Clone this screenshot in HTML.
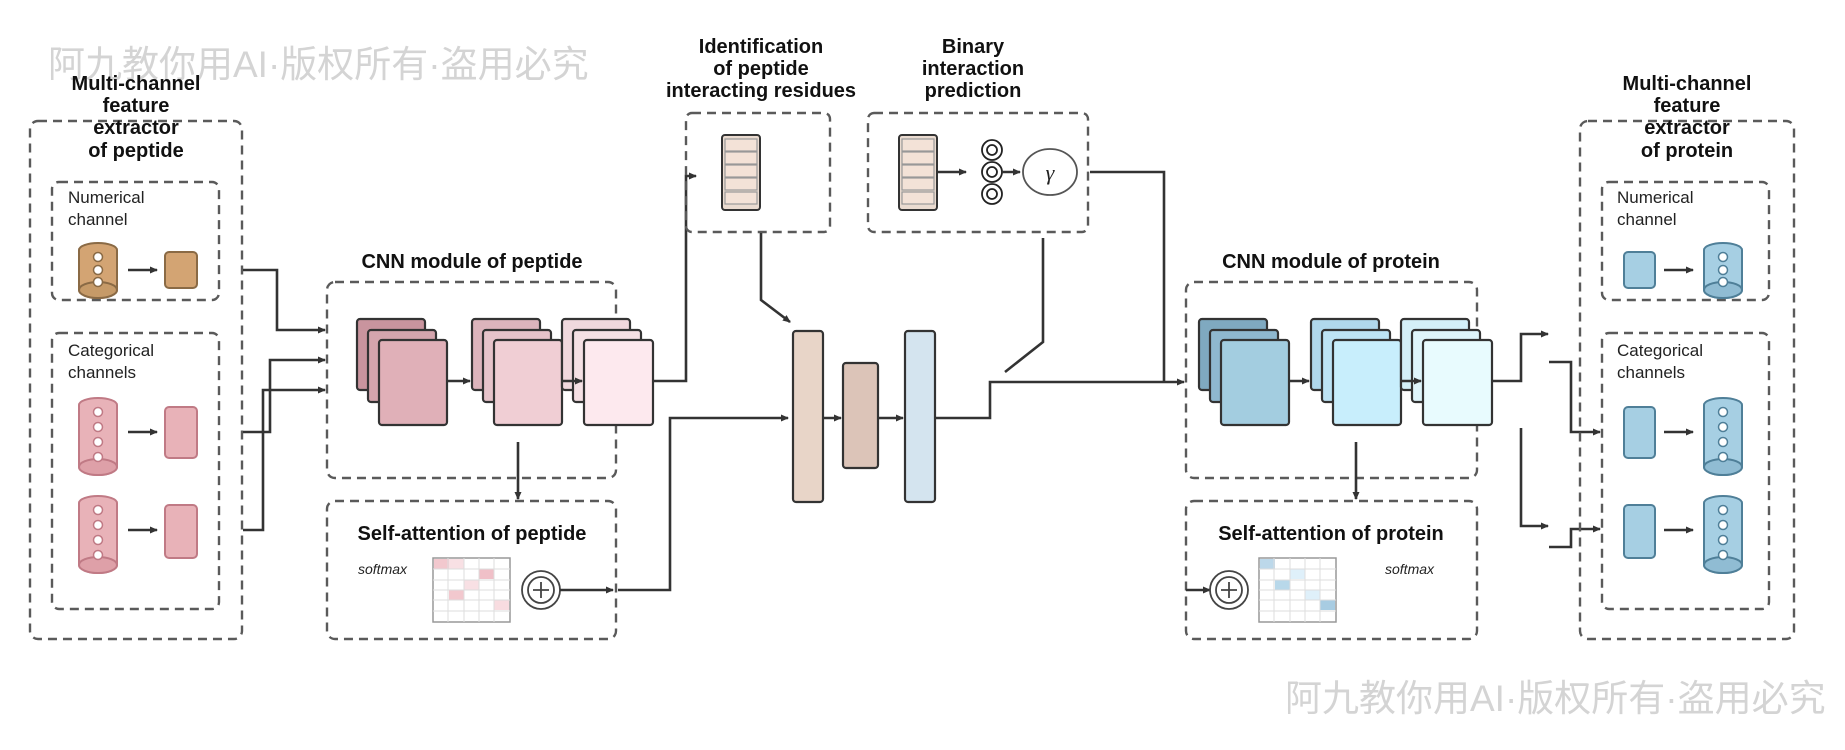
<!DOCTYPE html>
<html><head><meta charset="utf-8"><style>
html,body{margin:0;padding:0;background:#fff;}
svg{display:block;}
.t{font-family:"Liberation Sans",Arial,sans-serif;font-weight:bold;fill:#111;}
.n{font-family:"Liberation Sans",Arial,sans-serif;fill:#222;font-size:17px;}
.wm{font-family:"Liberation Sans","Noto Sans CJK SC",sans-serif;fill:#d4d4d4;font-size:37px;}
.d{fill:none;stroke:#5a5a5a;stroke-width:2.4;stroke-dasharray:9 6;}
.l{fill:none;stroke:#333;stroke-width:2.6;}
.sm{font-family:"Liberation Sans",Arial,sans-serif;font-style:italic;font-size:14px;fill:#222;}
</style></head><body>
<svg width="1845" height="750" viewBox="0 0 1845 750" xmlns="http://www.w3.org/2000/svg">
<defs>
<marker id="a" markerWidth="8" markerHeight="8" refX="7" refY="4" orient="auto" markerUnits="userSpaceOnUse"><path d="M0,0.5 L8,4 L0,7.5 Z" fill="#333"/></marker>
</defs>

<text class="wm" x="48" y="77">阿九教你用AI·版权所有·盗用必究</text>
<text class="wm" x="1285" y="711">阿九教你用AI·版权所有·盗用必究</text>

<rect class="d" x="30" y="121" width="212" height="518" rx="8"/>
<g class="t" font-size="20" text-anchor="middle">
<text x="136" y="90">Multi-channel</text><text x="136" y="112">feature</text><text x="136" y="134">extractor</text><text x="136" y="157">of peptide</text>
</g>
<rect class="d" x="52" y="182" width="167" height="118" rx="7"/>
<text class="n" x="68" y="203">Numerical</text><text class="n" x="68" y="225">channel</text>
<rect class="d" x="52" y="333" width="167" height="276" rx="7"/>
<text class="n" x="68" y="356">Categorical</text><text class="n" x="68" y="378">channels</text>

<g stroke="#8a6a45" stroke-width="2">
<path d="M79,250 V290 A19,8 0 0 0 117,290 V250 A19,7 0 0 0 79,250 Z" fill="#d3a473"/>
<ellipse cx="98" cy="290" rx="19" ry="8" fill="#c69a68"/>
<rect x="165" y="252" width="32" height="36" rx="4" fill="#d3a473"/>
</g>
<g fill="#fff" stroke="#8a6a45" stroke-width="1.5"><circle cx="98" cy="257" r="4.5"/><circle cx="98" cy="270" r="4.5"/><circle cx="98" cy="282" r="4.5"/></g>
<line class="l" x1="128" y1="270" x2="157" y2="270" marker-end="url(#a)"/>

<g stroke="#c07a85" stroke-width="2">
<path d="M79,405 V467 A19,8 0 0 0 117,467 V405 A19,7 0 0 0 79,405 Z" fill="#e8b2b8"/>
<ellipse cx="98" cy="467" rx="19" ry="8" fill="#dea0a8"/>
<rect x="165" y="407" width="32" height="51" rx="4" fill="#e8b2b8"/>
<path d="M79,503 V565 A19,8 0 0 0 117,565 V503 A19,7 0 0 0 79,503 Z" fill="#e8b2b8"/>
<ellipse cx="98" cy="565" rx="19" ry="8" fill="#dea0a8"/>
<rect x="165" y="505" width="32" height="53" rx="4" fill="#e8b2b8"/>
</g>
<g fill="#fff" stroke="#c07a85" stroke-width="1.5">
<circle cx="98" cy="412" r="4.5"/><circle cx="98" cy="427" r="4.5"/><circle cx="98" cy="442" r="4.5"/><circle cx="98" cy="457" r="4.5"/>
<circle cx="98" cy="510" r="4.5"/><circle cx="98" cy="525" r="4.5"/><circle cx="98" cy="540" r="4.5"/><circle cx="98" cy="555" r="4.5"/>
</g>
<line class="l" x1="128" y1="432" x2="157" y2="432" marker-end="url(#a)"/>
<line class="l" x1="128" y1="530" x2="157" y2="530" marker-end="url(#a)"/>

<polyline class="l" points="243,270 277,270 277,330 325,330" marker-end="url(#a)"/>
<polyline class="l" points="243,432 270,432 270,360 325,360" marker-end="url(#a)"/>
<polyline class="l" points="243,530 263,530 263,390 325,390" marker-end="url(#a)"/>

<rect class="d" x="327" y="282" width="289" height="196" rx="8"/>
<text class="t" font-size="20" x="472" y="268" text-anchor="middle">CNN module of peptide</text>
<g stroke="#333" stroke-width="2.2">
<rect x="357" y="319" width="68" height="71" rx="3" fill="#c9949e"/>
<rect x="368" y="330" width="68" height="72" rx="3" fill="#d4a5ad"/>
<rect x="379" y="340" width="68" height="85" rx="3" fill="#e0b0b8"/>
<rect x="472" y="319" width="68" height="71" rx="3" fill="#dcb4bc"/>
<rect x="483" y="330" width="68" height="72" rx="3" fill="#e6c3ca"/>
<rect x="494" y="340" width="68" height="85" rx="3" fill="#f0ced4"/>
<rect x="562" y="319" width="68" height="71" rx="3" fill="#f0d8dd"/>
<rect x="573" y="330" width="68" height="72" rx="3" fill="#f5e0e4"/>
<rect x="584" y="340" width="69" height="85" rx="3" fill="#fde9ee"/>
</g>
<line class="l" x1="447" y1="381" x2="470" y2="381" marker-end="url(#a)"/>
<line class="l" x1="562" y1="381" x2="582" y2="381" marker-end="url(#a)"/>
<line class="l" x1="518" y1="442" x2="518" y2="499" marker-end="url(#a)"/>

<rect class="d" x="327" y="501" width="289" height="138" rx="8"/>
<text class="t" font-size="20" x="472" y="540" text-anchor="middle">Self-attention of peptide</text>
<text class="sm" x="358" y="574">softmax</text>
<g>
<rect x="433" y="558" width="77" height="64" fill="#fff" stroke="#999" stroke-width="1.5"/>
<rect x="434" y="559" width="15" height="10" fill="#f2c8ce"/><rect x="449" y="559" width="15" height="10" fill="#f8e0e4"/>
<rect x="479" y="569" width="15" height="10" fill="#f0c0c8"/>
<rect x="464" y="580" width="15" height="10" fill="#f8e0e4"/>
<rect x="449" y="590" width="15" height="10" fill="#f2c8ce"/>
<rect x="494" y="600" width="15" height="10" fill="#f8dce0"/>
<g stroke="#ddd" stroke-width="1"><path d="M448,558V622M464,558V622M479,558V622M494,558V622M433,569H510M433,580H510M433,590H510M433,600H510M433,611H510"/></g>
</g>
<circle cx="541" cy="590" r="19" fill="#fff" stroke="#444" stroke-width="1.8"/>
<circle cx="541" cy="590" r="13" fill="#fff" stroke="#444" stroke-width="1.8"/>
<path d="M533,590H549M541,582V598" stroke="#444" stroke-width="1.8"/>
<line class="l" x1="560" y1="590" x2="613" y2="590" marker-end="url(#a)"/>
<polyline class="l" points="618,590 670,590 670,418 788,418" marker-end="url(#a)"/>
<polyline class="l" points="653,381 686,381 686,176 696,176" marker-end="url(#a)"/>

<g class="t" font-size="20" text-anchor="middle">
<text x="761" y="53">Identification</text><text x="761" y="75">of peptide</text><text x="761" y="97">interacting residues</text>
<text x="973" y="53">Binary</text><text x="973" y="75">interaction</text><text x="973" y="97">prediction</text>
</g>
<rect class="d" x="686" y="113" width="144" height="119" rx="6"/>
<rect class="d" x="868" y="113" width="220" height="119" rx="6"/>
<g stroke="#333" stroke-width="2">
<rect x="722" y="135" width="38" height="75" rx="3" fill="#eadbd0"/>
<rect x="899" y="135" width="38" height="75" rx="3" fill="#eadbd0"/>
</g>
<g fill="#f3e2d7" stroke="#999" stroke-width="1.2">
<rect x="725" y="139" width="32" height="12"/><rect x="725" y="152" width="32" height="12"/><rect x="725" y="165" width="32" height="12"/><rect x="725" y="178" width="32" height="12"/><rect x="725" y="192" width="32" height="12"/>
<rect x="902" y="139" width="32" height="12"/><rect x="902" y="152" width="32" height="12"/><rect x="902" y="165" width="32" height="12"/><rect x="902" y="178" width="32" height="12"/><rect x="902" y="192" width="32" height="12"/>
</g>
<line class="l" x1="937" y1="172" x2="966" y2="172" marker-end="url(#a)"/>
<g fill="#fff" stroke="#222" stroke-width="1.8">
<circle cx="992" cy="150" r="10"/><circle cx="992" cy="150" r="5"/>
<circle cx="992" cy="172" r="10"/><circle cx="992" cy="172" r="5"/>
<circle cx="992" cy="194" r="10"/><circle cx="992" cy="194" r="5"/>
</g>
<line class="l" x1="1002" y1="172" x2="1020" y2="172" marker-end="url(#a)"/>
<ellipse cx="1050" cy="172" rx="27" ry="23" fill="#fff" stroke="#555" stroke-width="1.8"/>
<text x="1050" y="180" text-anchor="middle" font-family="Liberation Serif,serif" font-style="italic" font-size="22" fill="#222">γ</text>
<polyline class="l" points="1090,172 1164,172 1164,382"/>

<polyline class="l" points="761,233 761,300 790,322" marker-end="url(#a)"/>
<g stroke="#333" stroke-width="2.2">
<rect x="793" y="331" width="30" height="171" rx="3" fill="#e8d5c8"/>
<rect x="843" y="363" width="35" height="105" rx="3" fill="#dcc4b8"/>
<rect x="905" y="331" width="30" height="171" rx="3" fill="#d4e4ef"/>
</g>
<line class="l" x1="823" y1="418" x2="841" y2="418" marker-end="url(#a)"/>
<line class="l" x1="878" y1="418" x2="903" y2="418" marker-end="url(#a)"/>
<polyline class="l" points="935,418 990,418 990,382 1184,382" marker-end="url(#a)"/>
<polyline class="l" points="1043,238 1043,342 1005,372"/>

<rect class="d" x="1186" y="282" width="291" height="196" rx="8"/>
<text class="t" font-size="20" x="1331" y="268" text-anchor="middle">CNN module of protein</text>
<g stroke="#333" stroke-width="2.2">
<rect x="1199" y="319" width="68" height="71" rx="3" fill="#7fa9c0"/>
<rect x="1210" y="330" width="68" height="72" rx="3" fill="#8fb8cf"/>
<rect x="1221" y="340" width="68" height="85" rx="3" fill="#a3cde0"/>
<rect x="1311" y="319" width="68" height="71" rx="3" fill="#b0d8ec"/>
<rect x="1322" y="330" width="68" height="72" rx="3" fill="#bde3f4"/>
<rect x="1333" y="340" width="68" height="85" rx="3" fill="#c8eefc"/>
<rect x="1401" y="319" width="68" height="71" rx="3" fill="#d4f0f8"/>
<rect x="1412" y="330" width="68" height="72" rx="3" fill="#dff5fb"/>
<rect x="1423" y="340" width="69" height="85" rx="3" fill="#e8fbfe"/>
</g>
<line class="l" x1="1289" y1="381" x2="1309" y2="381" marker-end="url(#a)"/>
<line class="l" x1="1401" y1="381" x2="1421" y2="381" marker-end="url(#a)"/>
<line class="l" x1="1356" y1="442" x2="1356" y2="499" marker-end="url(#a)"/>

<rect class="d" x="1186" y="501" width="291" height="138" rx="8"/>
<text class="t" font-size="20" x="1331" y="540" text-anchor="middle">Self-attention of protein</text>
<line class="l" x1="1186" y1="590" x2="1210" y2="590" marker-end="url(#a)"/>
<circle cx="1229" cy="590" r="19" fill="#fff" stroke="#444" stroke-width="1.8"/>
<circle cx="1229" cy="590" r="13" fill="#fff" stroke="#444" stroke-width="1.8"/>
<path d="M1221,590H1237M1229,582V598" stroke="#444" stroke-width="1.8"/>
<g>
<rect x="1259" y="558" width="77" height="64" fill="#fff" stroke="#999" stroke-width="1.5"/>
<rect x="1260" y="559" width="15" height="10" fill="#bcd8ea"/>
<rect x="1290" y="569" width="15" height="10" fill="#dff0fa"/>
<rect x="1275" y="580" width="15" height="10" fill="#b8d8ea"/>
<rect x="1305" y="590" width="15" height="10" fill="#dff0fa"/>
<rect x="1320" y="600" width="15" height="10" fill="#a8cce2"/>
<g stroke="#ddd" stroke-width="1"><path d="M1274,558V622M1290,558V622M1305,558V622M1320,558V622M1259,569H1336M1259,580H1336M1259,590H1336M1259,600H1336M1259,611H1336"/></g>
</g>
<text class="sm" x="1385" y="574">softmax</text>

<polyline class="l" points="1492,381 1521,381 1521,334 1548,334" marker-end="url(#a)"/>
<polyline class="l" points="1549,362 1571,362 1571,432 1600,432" marker-end="url(#a)"/>
<polyline class="l" points="1521,428 1521,526 1548,526" marker-end="url(#a)"/>
<polyline class="l" points="1549,547 1571,547 1571,529 1600,529" marker-end="url(#a)"/>

<rect class="d" x="1580" y="121" width="214" height="518" rx="8"/>
<g class="t" font-size="20" text-anchor="middle">
<text x="1687" y="90">Multi-channel</text><text x="1687" y="112">feature</text><text x="1687" y="134">extractor</text><text x="1687" y="157">of protein</text>
</g>
<rect class="d" x="1602" y="182" width="167" height="118" rx="7"/>
<text class="n" x="1617" y="203">Numerical</text><text class="n" x="1617" y="225">channel</text>
<rect class="d" x="1602" y="333" width="167" height="276" rx="7"/>
<text class="n" x="1617" y="356">Categorical</text><text class="n" x="1617" y="378">channels</text>
<g stroke="#4f7f98" stroke-width="2">
<rect x="1624" y="252" width="31" height="36" rx="4" fill="#a6cfe3"/>
<rect x="1624" y="407" width="31" height="51" rx="4" fill="#a6cfe3"/>
<rect x="1624" y="505" width="31" height="53" rx="4" fill="#a6cfe3"/>
<path d="M1704,250 V290 A19,8 0 0 0 1742,290 V250 A19,7 0 0 0 1704,250 Z" fill="#a6cfe3"/>
<ellipse cx="1723" cy="290" rx="19" ry="8" fill="#90bcd3"/>
<path d="M1704,405 V467 A19,8 0 0 0 1742,467 V405 A19,7 0 0 0 1704,405 Z" fill="#a6cfe3"/>
<ellipse cx="1723" cy="467" rx="19" ry="8" fill="#90bcd3"/>
<path d="M1704,503 V565 A19,8 0 0 0 1742,565 V503 A19,7 0 0 0 1704,503 Z" fill="#a6cfe3"/>
<ellipse cx="1723" cy="565" rx="19" ry="8" fill="#90bcd3"/>
</g>
<g fill="#fff" stroke="#4f7f98" stroke-width="1.5">
<circle cx="1723" cy="257" r="4.5"/><circle cx="1723" cy="270" r="4.5"/><circle cx="1723" cy="282" r="4.5"/>
<circle cx="1723" cy="412" r="4.5"/><circle cx="1723" cy="427" r="4.5"/><circle cx="1723" cy="442" r="4.5"/><circle cx="1723" cy="457" r="4.5"/>
<circle cx="1723" cy="510" r="4.5"/><circle cx="1723" cy="525" r="4.5"/><circle cx="1723" cy="540" r="4.5"/><circle cx="1723" cy="555" r="4.5"/>
</g>
<line class="l" x1="1664" y1="270" x2="1693" y2="270" marker-end="url(#a)"/>
<line class="l" x1="1664" y1="432" x2="1693" y2="432" marker-end="url(#a)"/>
<line class="l" x1="1664" y1="530" x2="1693" y2="530" marker-end="url(#a)"/>
</svg>
</body></html>
